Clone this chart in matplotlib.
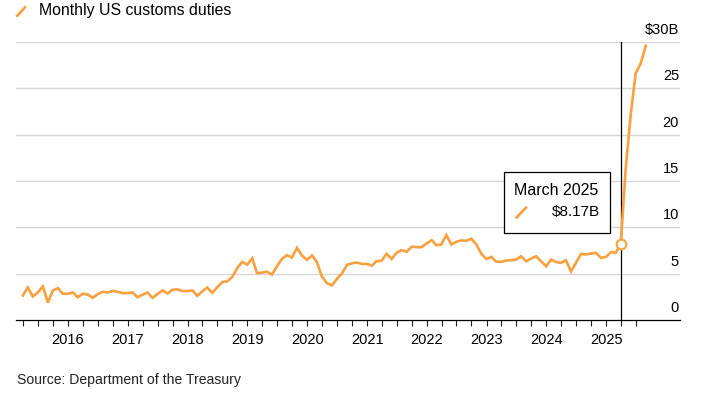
import pandas as pd
import matplotlib.pyplot as plt
from matplotlib.lines import Line2D
from matplotlib.patches import Rectangle

# Monthly US customs duties, $ billions, March 2015 - August 2025
start_month = "2015-03-31"
duties = [
    2.64, 3.51, 2.54, 2.97, 3.62, 1.88, 3.19, 3.44, 2.83, 2.83,
    2.97, 2.46, 2.83, 2.75, 2.39, 2.79, 3.04, 2.97, 3.15, 3.04, 2.90, 2.90,
    2.97, 2.46, 2.72, 2.97, 2.39, 2.79, 3.19, 2.86, 3.26, 3.30, 3.12, 3.12,
    3.19, 2.61, 3.08, 3.51, 2.93, 3.51, 4.09, 4.17, 4.64, 5.62, 6.27, 5.98,
    6.67, 5.07, 5.11, 5.22, 4.89, 5.80, 6.59, 6.99, 6.74, 7.79, 6.96, 6.49,
    6.96, 6.27, 4.71, 3.99, 3.73, 4.42, 5.00, 5.94, 6.12, 6.20, 6.05, 6.05,
    5.87, 6.34, 6.41, 7.14, 6.59, 7.25, 7.54, 7.36, 7.90, 7.86, 7.86, 8.26,
    8.62, 8.08, 8.15, 9.17, 8.15, 8.44, 8.59, 8.55, 8.77, 8.15, 7.14, 6.59,
    6.81, 6.30, 6.27, 6.41, 6.45, 6.52, 6.88, 6.34, 6.63, 6.88, 6.34, 5.80,
    6.52, 6.27, 6.16, 6.45, 5.25, 6.16, 7.14, 7.07, 7.17, 7.25, 6.70, 6.81,
    7.35, 7.25, 8.17, 16.3, 22.2, 26.6, 27.7, 29.6,
]
highlight_label = "March 2025"
highlight_value = 8.17
highlight_date = "2025-03-31"

year_ticks = list(range(2016, 2026))
y_ticks = [0, 5, 10, 15, 20, 25, 30]
y_tick_labels = ["0", "5", "10", "15", "20", "25", "$30B"]

ORANGE = "#F9A03F"
FONT = "Liberation Sans"


def main():
    plt.rcParams["font.family"] = [FONT, "DejaVu Sans"]

    dates = pd.date_range(start_month, periods=len(duties), freq="ME")
    march = pd.Timestamp(highlight_date)

    fig = plt.figure(figsize=(7.03, 3.96), dpi=100)
    ax = fig.add_axes([16 / 703, 1 - 320 / 396, 664 / 703, 278 / 396])

    ax.plot(dates, duties, color=ORANGE, lw=1.9, solid_joinstyle="miter", zorder=3)
    ax.axvline(march, color="black", lw=0.9, zorder=2)
    ax.plot([march], [highlight_value], marker="o", ms=7, mfc="white",
            mec=ORANGE, mew=1.5, zorder=4)

    ax.set_xlim(pd.Timestamp("2015-02-17"), pd.Timestamp("2026-03-28"))
    ax.set_ylim(0, 30)

    # horizontal grid, labels sit above the lines on the right
    for v, lab in zip(y_ticks, y_tick_labels):
        if v > 0:
            ax.axhline(v, color="#d6d6d6", lw=1.0, zorder=1)
        ax.annotate(lab, xy=(1, v), xycoords=("axes fraction", "data"),
                    xytext=(-1, 5), textcoords="offset pixels",
                    ha="right", va="bottom", fontsize=10.5, color="black")

    ax.set_yticks([])
    for side in ["top", "right", "left"]:
        ax.spines[side].set_visible(False)
    ax.spines["bottom"].set_color("black")
    ax.spines["bottom"].set_linewidth(0.9)

    major = [pd.Timestamp(f"{y}-01-01") for y in year_ticks]
    minor = pd.date_range("2015-04-01", "2025-07-01", freq="QS")
    ax.set_xticks(major)
    ax.set_xticklabels([str(y) for y in year_ticks])
    ax.set_xticks(minor, minor=True)
    ax.tick_params(axis="x", which="both", length=4.5, width=0.8,
                   color="#222222", labelsize=10.5, pad=5)

    # callout box for March 2025
    ax.add_patch(Rectangle((0.735, 0.312), 0.159, 0.219, transform=ax.transAxes,
                           facecolor="white", edgecolor="black", lw=0.9, zorder=5))
    ax.text(0.7505, 0.465, highlight_label, transform=ax.transAxes,
            ha="left", va="center", fontsize=11.5, zorder=6)
    ax.text(0.8795, 0.39, f"${highlight_value:.2f}B", transform=ax.transAxes,
            ha="right", va="center", fontsize=11, zorder=6)
    ax.add_line(Line2D([0.754, 0.768], [0.369, 0.404], transform=ax.transAxes,
                       color=ORANGE, lw=1.9, zorder=6))

    # legend-style title and source
    fig.add_artist(Line2D([17.3 / 703, 25 / 703], [1 - 15.7 / 396, 1 - 7.3 / 396],
                          color=ORANGE, lw=1.9))
    fig.text(39 / 703, 1 - 15 / 396, "Monthly US customs duties",
             ha="left", va="baseline", fontsize=11.4)
    fig.text(16.7 / 703, 1 - 384 / 396, "Source: Department of the Treasury",
             ha="left", va="baseline", fontsize=10.1, color="#222222")

    fig.savefig("out.png", dpi=100)
    plt.close(fig)


if __name__ == "__main__":
    main()
